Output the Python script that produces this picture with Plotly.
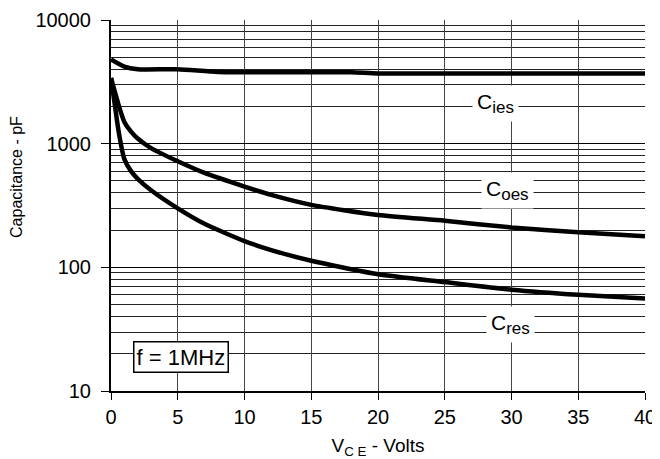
import math
import plotly.graph_objects as go

# Data
vce_ies = [0, 1, 2, 5, 8, 12, 15, 18, 20, 25, 30, 35, 40]
cies = [4800, 4200, 4000, 4000, 3800, 3780, 3780, 3780, 3700, 3700, 3700, 3700, 3700]

vce_oes = [0, 0.3, 0.6, 1, 1.5, 2, 3, 5, 7, 10, 12, 15, 20, 25, 30, 35, 40]
coes = [3400, 2600, 2000, 1500, 1250, 1100, 920, 720, 580, 450, 385, 320, 265, 238, 210, 192, 178]

vce_res = [0, 0.3, 0.6, 1, 1.5, 2, 3, 5, 7, 10, 12, 15, 20, 25, 30, 35, 40]
cres = [3400, 2000, 1200, 750, 600, 520, 420, 300, 225, 163, 138, 113, 88, 76, 66, 60, 56]

y_tickvals = [10, 100, 1000, 10000]
y_ticktext = ["10", "100", "1000", "10000"]
x_tickvals = [0, 5, 10, 15, 20, 25, 30, 35, 40]
minor_vals = [m * d for d in (10, 100, 1000) for m in range(2, 10)]

label_names = ["ies", "oes", "res"]
label_x = [28.8, 29.7, 29.9]
label_y = [2100, 415, 34.2]
note_text = "f = 1MHz"
note_pos = (5.24, 18.7)

font = "Liberation Sans"

fig = go.Figure()
for xs, ys in [(vce_ies, cies), (vce_oes, coes), (vce_res, cres)]:
    fig.add_trace(go.Scatter(x=xs, y=ys, mode="lines",
                             line=dict(color="black", width=4.5, shape="spline", smoothing=0.6),
                             showlegend=False, hoverinfo="skip"))

for name, x, y in zip(label_names, label_x, label_y):
    txt = "C<sub><span style='font-size:17px'>%s</span></sub>" % name
    fig.add_annotation(x=x, y=math.log10(y), yref="y", xref="x", text=txt, showarrow=False,
                       font=dict(family=font, size=21, color="black"), bgcolor="white", borderpad=4)

fig.add_annotation(x=note_pos[0], y=math.log10(note_pos[1]), xref="x", yref="y", text=note_text, showarrow=False,
                   font=dict(family=font, size=22, color="black"), bgcolor="white",
                   bordercolor="black", borderwidth=1.5, borderpad=2)

fig.add_annotation(x=-0.176, y=0.577, xref="paper", yref="paper", text="Capacitance - pF", textangle=-90,
                   showarrow=False, xanchor="center", yanchor="middle",
                   font=dict(family=font, size=16, color="black"))

fig.update_xaxes(range=[0, 40], tickvals=x_tickvals, showgrid=True, gridcolor="#444", gridwidth=1,
                 ticks="outside", ticklen=7, tickcolor="black", tickwidth=1,
                 showline=True, linecolor="black", linewidth=2, zeroline=False, automargin=False,
                 tickfont=dict(family=font, size=20, color="black"),
                 title=dict(text="V<sub>C E</sub> - Volts", font=dict(family=font, size=19, color="black"), standoff=15))
fig.update_yaxes(type="log", range=[1, 4], tickvals=y_tickvals, ticktext=y_ticktext,
                 showgrid=True, gridcolor="black", gridwidth=1,
                 minor=dict(tickvals=minor_vals, showgrid=True, gridcolor="#222", gridwidth=1, ticks=""),
                 ticks="outside", ticklen=8, tickcolor="black", tickwidth=1, ticklabelstandoff=6,
                 showline=True, linecolor="black", linewidth=2, zeroline=False, automargin=False,
                 tickfont=dict(family=font, size=20, color="black"))

# page body adds an 8px offset, so the figure is sized to fit the window
fig.update_layout(width=652, height=451, margin=dict(l=103, r=15, t=12, b=68),
                  plot_bgcolor="white", paper_bgcolor="white")

fig.write_html("out.html")
